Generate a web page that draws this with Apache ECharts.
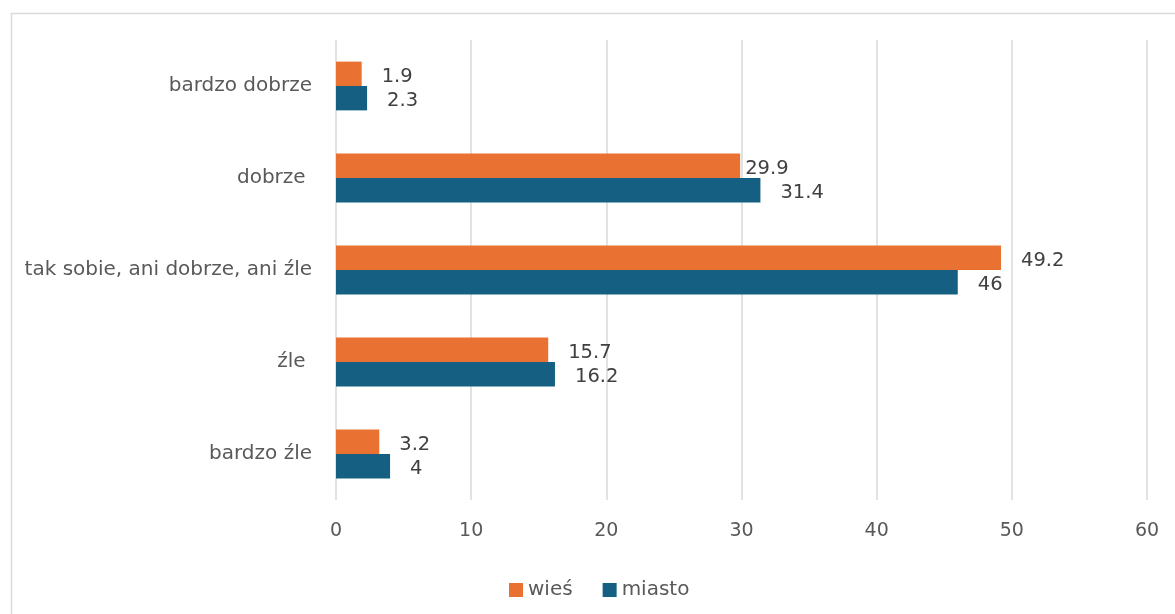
<!DOCTYPE html>
<html>
<head>
<meta charset="utf-8">
<script src="https://cdn.jsdelivr.net/npm/echarts@6/dist/echarts.min.js"></script>
<style>
  html, body { margin: 0; padding: 0; background: #ffffff; }
  #chart { width: 1175px; height: 614px; }
</style>
</head>
<body>
<div id="chart"></div>
<script>
// Ocena sytuacji: wieś vs miasto (%)
const categories = ['bardzo dobrze', 'dobrze ', 'tak sobie, ani dobrze, ani źle', 'źle ', 'bardzo źle'];
const wiesValues = [1.9, 29.9, 49.2, 15.7, 3.2];
const miastoValues = [2.3, 31.4, 46, 16.2, 4];
const seriesNames = ['wieś', 'miasto'];
const axisTicks = [0, 10, 20, 30, 40, 50, 60];

const FONT = '"DejaVu Sans"';
const chart = echarts.init(document.getElementById('chart'), null, { renderer: 'canvas' });

const labelStyle = {
  show: true,
  position: 'right',
  distance: 20,
  offset: [0, 3],
  fontFamily: FONT,
  fontSize: 19.5,
  color: '#404040'
};

chart.setOption({
  animation: false,
  textStyle: { fontFamily: FONT },
  graphic: [{
    type: 'rect',
    left: 9, top: 11,
    shape: { width: 1180, height: 620 },
    style: { fill: 'none', stroke: '#d9d9d9', lineWidth: 1.5 },
    silent: true
  }],
  grid: { left: 336, right: 28, top: 40, bottom: 114, containLabel: false },
  legend: {
    data: seriesNames,
    top: 575,
    left: 504,
    itemWidth: 14,
    itemHeight: 14,
    itemGap: 30,
    icon: 'rect',
    textStyle: { fontFamily: FONT, fontSize: 20, color: '#595959' }
  },
  xAxis: {
    type: 'value',
    min: axisTicks[0],
    max: axisTicks[axisTicks.length - 1],
    interval: 10,
    axisLine: { show: false },
    axisTick: { show: false },
    axisLabel: { fontFamily: FONT, fontSize: 19, color: '#595959', margin: 22 },
    splitLine: { show: true, lineStyle: { color: '#d9d9d9', width: 1.5 } }
  },
  yAxis: {
    type: 'category',
    data: categories,
    inverse: true,
    axisLine: { show: false },
    axisTick: { show: false },
    axisLabel: { fontFamily: FONT, fontSize: 20, color: '#595959', margin: 24 },
    splitLine: { show: false }
  },
  series: [
    {
      name: seriesNames[0],
      type: 'bar',
      data: wiesValues.map((v, i) => i === 1
        ? { value: v, label: { distance: 5 } }
        : v),
      itemStyle: { color: '#E97132' },
      barGap: '0%',
      barCategoryGap: '47%',
      label: labelStyle
    },
    {
      name: seriesNames[1],
      type: 'bar',
      data: miastoValues,
      itemStyle: { color: '#156082' },
      barGap: '0%',
      barCategoryGap: '47%',
      label: labelStyle
    }
  ]
});
</script>
</body>
</html>
